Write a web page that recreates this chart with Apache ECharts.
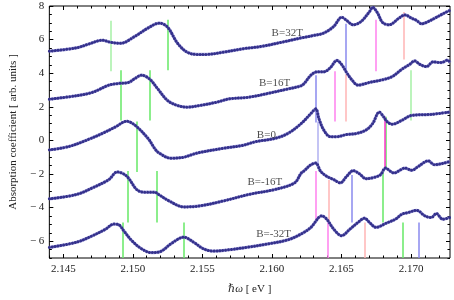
<!DOCTYPE html>
<html><head><meta charset="utf-8">
<script src="https://cdn.jsdelivr.net/npm/echarts@6/dist/echarts.min.js"></script>
<style>html,body{margin:0;padding:0;background:#fff}#c{width:454px;height:300px}</style>
</head><body><div id="c"></div>
<script>
// ---- data (photon energy in eV, absorption in arb. units) ----
const curveNames = ['B=32T', 'B=16T', 'B=0', 'B=-16T', 'B=-32T'];

const xB32 = [2.14400,2.14595,2.14688,2.14779,2.14840,2.14911,2.15016,2.15109,2.15191,2.15250,2.15320,2.15390,2.15460,2.15531,2.15648,2.15788,2.15929,2.16069,2.16210,2.16303,2.16373,2.16444,2.16502,2.16537,2.16584,2.16640,2.16701,2.16724,2.16760,2.16795,2.16842,2.16912,2.16956,2.17005,2.17040,2.17076,2.17123,2.17169,2.17237,2.17280];
const yB32 = [5.31,5.51,5.75,5.96,5.84,5.78,6.20,6.69,6.98,6.74,5.80,5.25,5.12,5.12,5.25,5.45,5.60,5.84,6.10,6.25,6.39,6.78,7.33,7.14,6.88,7.07,7.66,7.92,7.57,7.02,6.88,7.27,7.47,7.27,7.14,6.94,7.07,7.27,7.57,7.74];

const xB16 = [2.14400,2.14595,2.14711,2.14828,2.14899,2.14969,2.15016,2.15062,2.15121,2.15180,2.15250,2.15320,2.15390,2.15481,2.15601,2.15692,2.15833,2.15973,2.16114,2.16210,2.16233,2.16280,2.16324,2.16373,2.16420,2.16467,2.16500,2.16537,2.16570,2.16619,2.16701,2.16795,2.16865,2.16935,2.16991,2.17026,2.17062,2.17111,2.17158,2.17216,2.17263,2.17280];
const yB16 = [2.45,2.66,2.86,3.29,3.39,3.45,3.69,3.88,3.65,3.06,2.37,2.08,1.98,2.08,2.27,2.47,2.57,2.80,3.06,3.25,3.40,3.88,4.08,4.08,4.33,4.76,4.53,4.04,3.65,3.29,3.45,3.61,3.80,4.24,4.53,4.73,4.53,4.39,4.67,4.63,4.78,4.62];

const xB0 = [2.14400,2.14547,2.14688,2.14779,2.14875,2.14955,2.15016,2.15109,2.15156,2.15180,2.15273,2.15367,2.15460,2.15648,2.15788,2.15882,2.16022,2.16114,2.16210,2.16280,2.16315,2.16338,2.16373,2.16420,2.16467,2.16537,2.16605,2.16675,2.16724,2.16772,2.16795,2.16830,2.16865,2.16935,2.17005,2.17146,2.17280];
const yB0 = [-0.57,-0.35,0.08,0.41,0.80,1.14,0.90,0.12,-0.47,-0.70,-1.06,-1.00,-0.76,-0.47,-0.30,-0.08,0.12,0.41,1.00,1.60,1.88,1.29,0.61,0.22,0.22,0.35,0.41,0.61,1.00,1.69,1.49,1.10,0.96,1.20,1.49,1.55,1.69];

const xBm16 = [2.14400,2.14595,2.14711,2.14828,2.14887,2.14955,2.15027,2.15074,2.15156,2.15191,2.15262,2.15367,2.15481,2.15648,2.15833,2.16022,2.16163,2.16210,2.16233,2.16280,2.16315,2.16350,2.16394,2.16444,2.16491,2.16537,2.16584,2.16631,2.16675,2.16736,2.16781,2.16816,2.16877,2.16956,2.17005,2.17052,2.17123,2.17169,2.17237,2.17280];
const yBm16 = [-3.48,-3.22,-2.82,-2.33,-1.88,-2.12,-2.92,-3.08,-3.08,-3.25,-3.61,-3.96,-3.90,-3.61,-3.22,-2.92,-2.53,-1.95,-1.80,-1.45,-1.35,-1.84,-2.14,-2.33,-2.53,-2.14,-1.80,-2.00,-2.28,-2.20,-2.04,-1.65,-1.94,-1.65,-1.78,-1.55,-1.22,-1.45,-1.35,-1.25];

const xBm32 = [2.14400,2.14595,2.14711,2.14805,2.14863,2.14899,2.14934,2.14992,2.15062,2.15132,2.15203,2.15273,2.15367,2.15437,2.15507,2.15578,2.15692,2.15833,2.15973,2.16114,2.16210,2.16280,2.16359,2.16394,2.16444,2.16500,2.16561,2.16619,2.16666,2.16701,2.16748,2.16818,2.16888,2.16935,2.16982,2.17040,2.17099,2.17146,2.17181,2.17228,2.17280];
const yBm32 = [-6.37,-6.06,-5.67,-5.28,-4.98,-5.02,-5.37,-5.96,-6.45,-6.68,-6.60,-6.16,-5.76,-6.06,-6.45,-6.59,-6.51,-6.35,-6.16,-5.92,-5.57,-5.18,-4.49,-4.69,-5.28,-5.67,-5.28,-4.88,-4.63,-4.88,-5.18,-4.94,-4.69,-4.39,-4.29,-4.16,-4.49,-4.59,-4.35,-4.69,-4.59];

// transition markers: energy, vertical extent, kind
const markerX  = [2.14839,2.15250,2.16533,2.16743,2.16951, 2.14915,2.15125,2.16315,2.16451,2.16530,2.16996, 2.15027,2.16326,2.16818,2.16811, 2.14964,2.15172,2.16315,2.16408,2.16572,2.16800, 2.14929,2.15367,2.16400,2.16670,2.16937,2.17057];
const markerY0 = [7.12,7.18,6.94,7.18,7.65, 4.18,4.18,3.88,4.12,3.94,4.18, 1.12,1.12,1.41,1.41, -1.82,-1.82,-1.82,-2.35,-2.06,-1.82, -4.88,-4.88,-4.88,-4.88,-4.88,-4.88];
const markerY1 = [4.12,4.18,4.12,4.12,4.82, 1.18,1.18,1.06,1.12,1.12,1.18, -1.88,-1.53,-1.65,-1.65, -4.88,-4.88,-4.71,-4.88,-4.88,-4.88, -7,-7,-7,-7,-7,-7];
const markerKind = ['paleGreen','green','blue','magenta','pink', 'green','green','blue','magenta','pink','paleGreen', 'green','paleBlue','green','hotMagenta', 'green','green','magenta','pink','blue','green', 'green','green','magenta','pink','green','blue'];

const curveLabelX = [2.16110, 2.16019, 2.15960, 2.15949, 2.16012];
const curveLabelY = [6.41, 3.41, 0.32, -2.50, -5.59];

const xMajorTicks = [2.145, 2.150, 2.155, 2.160, 2.165, 2.170];
const xMinorTicks = [2.144,2.146,2.147,2.148,2.149,2.151,2.152,2.153,2.154,2.156,2.157,2.158,2.159,2.161,2.162,2.163,2.164,2.166,2.167,2.168,2.169,2.171,2.172];
const yMajorTicks = [-6, -4, -2, 0, 2, 4, 6, 8];
const yMinorTicks = [-7,-6.5,-5.5,-5,-4.5,-3.5,-3,-2.5,-1.5,-1,-0.5,0.5,1,1.5,2.5,3,3.5,4.5,5,5.5,6.5,7,7.5];

// ---- styles ----
const kindColor = {
  paleGreen: '#a6f0a6', green: '#66e866', blue: '#8a8aee', paleBlue: '#b0b0f0',
  magenta: '#ff80ee', hotMagenta: '#ff33cc', pink: '#ffb4b4'
};
const SERIF = '"Liberation Serif","DejaVu Serif",serif';
const curveXs = [xB32, xB16, xB0, xBm16, xBm32];
const curveYs = [yB32, yB16, yB0, yBm16, yBm32];

const XMIN = 2.144, XMAX = 2.1728, YMIN = -7, YMAX = 8;

function xAxisDef(pos, values, len, labels) {
  return {
    type: 'value', min: XMIN, max: XMAX, position: pos,
    axisLine: { show: false, onZero: false },
    splitLine: { show: false },
    axisTick: { show: true, inside: true, length: len, customValues: values, lineStyle: { color: '#000', width: 1 } },
    axisLabel: labels ? { show: true, customValues: values, margin: 6, color: '#222', fontFamily: SERIF, fontSize: 11,
      formatter: v => v.toFixed(3) } : { show: false }
  };
}
function yAxisDef(pos, values, len, labels) {
  return {
    type: 'value', min: YMIN, max: YMAX, position: pos,
    axisLine: { show: false, onZero: false },
    splitLine: { show: false },
    axisTick: { show: true, inside: true, length: len, customValues: values, lineStyle: { color: '#000', width: 1 } },
    axisLabel: labels ? { show: true, customValues: values, margin: 5, color: '#222', fontFamily: SERIF, fontSize: 11,
      formatter: v => v < 0 ? '\u2212 ' + Math.abs(v) : String(v) } : { show: false }
  };
}

const xAxes = [xAxisDef('bottom', xMajorTicks, 4, true), xAxisDef('bottom', xMinorTicks, 2.5, false),
               xAxisDef('top', xMajorTicks, 4, false), xAxisDef('top', xMinorTicks, 2.5, false)];
xAxes[0].name = '{i|\u210F\u03C9} [ eV ]';
xAxes[0].nameLocation = 'middle';
xAxes[0].nameGap = 26;
xAxes[0].nameTextStyle = { fontFamily: SERIF, fontSize: 11, color: '#222',
  rich: { i: { fontFamily: SERIF, fontStyle: 'italic', fontSize: 11, color: '#222' } } };

const yAxes = [yAxisDef('left', yMajorTicks, 4, true), yAxisDef('left', yMinorTicks, 2.5, false),
               yAxisDef('right', yMajorTicks, 4, false), yAxisDef('right', yMinorTicks, 2.5, false)];
yAxes[0].name = 'Absorption coefficient [ arb. units ]';
yAxes[0].nameLocation = 'middle';
yAxes[0].nameGap = 22;
yAxes[0].nameTextStyle = { fontFamily: SERIF, fontSize: 11, color: '#222' };

const series = [];
// markers
series.push({
  type: 'lines', coordinateSystem: 'cartesian2d', xAxisIndex: 0, yAxisIndex: 0, z: 1,
  silent: true,
  data: markerX.map((x, i) => ({
    coords: [[x, markerY0[i]], [x, markerY1[i]]],
    lineStyle: { color: kindColor[markerKind[i]], width: 1.5, opacity: 1 }
  }))
});
// curves: halo + dots
curveNames.forEach((name, k) => {
  const d = curveXs[k].map((x, i) => [x, curveYs[k][i]]);
  series.push({
    type: 'line', name: name + ' halo', data: d, xAxisIndex: 0, yAxisIndex: 0, z: 2,
    showSymbol: false, smooth: 0.35, silent: true,
    lineStyle: { color: 'rgba(125,120,205,0.6)', width: 3.2 }
  });
  series.push({
    type: 'line', name: name, data: d, xAxisIndex: 0, yAxisIndex: 0, z: 3,
    showSymbol: false, smooth: 0.35, silent: true,
    lineStyle: { color: '#34318c', width: 3, type: [0.01, 2.9], cap: 'round' }
  });
});
// curve labels
series.push({
  type: 'scatter', xAxisIndex: 0, yAxisIndex: 0, z: 4, silent: true,
  symbolSize: 0,
  data: curveLabelX.map((x, i) => ({ value: [x, curveLabelY[i]], name: curveNames[i] })),
  label: { show: true, position: 'inside', formatter: p => p.name,
    fontFamily: SERIF, fontSize: 11, color: '#222' }
});

const chart = echarts.init(document.getElementById('c'), null, { renderer: 'canvas' });
chart.setOption({
  animation: false,
  backgroundColor: '#fff',
  grid: { left: 39, right: 4, top: 6, bottom: 39, show: true, borderColor: '#000', borderWidth: 1, backgroundColor: 'transparent' },
  xAxis: xAxes,
  yAxis: yAxes,
  series: series
});
</script>
</body></html>
